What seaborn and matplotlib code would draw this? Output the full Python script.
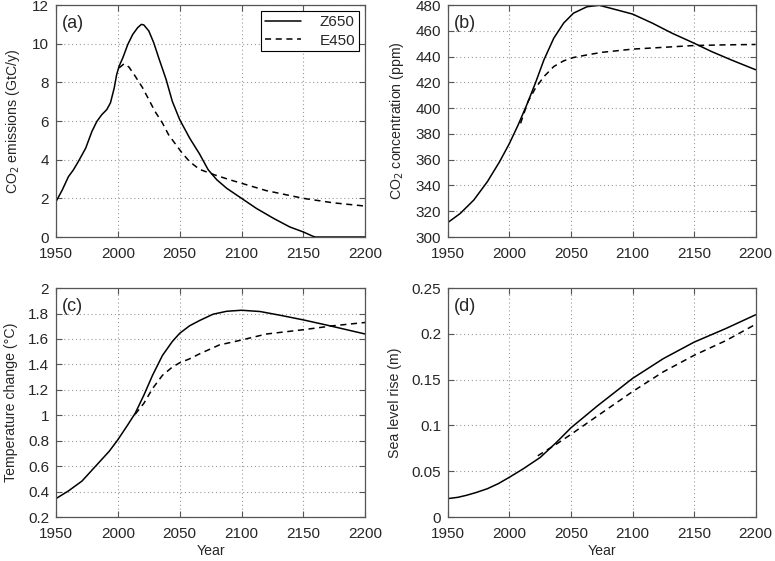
import numpy as np
import pandas as pd
import seaborn as sns
import matplotlib.pyplot as plt

sns.set_style("ticks")
plt.rcParams['font.family'] = ['Liberation Sans', 'DejaVu Sans']
plt.rcParams['xtick.direction'] = 'in'
plt.rcParams['ytick.direction'] = 'in'

# (a) CO2 emissions (GtC/y)
em_z_yr = [1950, 1955, 1960, 1964, 1968, 1974, 1979, 1983, 1987, 1991, 1994, 1997,
           1999, 2001, 2004, 2008, 2012, 2016, 2019, 2021, 2025, 2029, 2033, 2039,
           2044, 2050, 2058, 2066, 2073, 2080, 2088, 2100, 2112, 2126, 2139, 2150,
           2158, 2160, 2200]
em_z = [1.83, 2.43, 3.12, 3.47, 3.9, 4.6, 5.46, 5.98, 6.33, 6.59, 6.94, 7.7,
        8.4, 8.84, 9.27, 9.96, 10.48, 10.83, 11.0, 10.97, 10.66, 10.05, 9.27, 8.15,
        7.02, 6.07, 5.12, 4.3, 3.48, 2.96, 2.52, 2.0, 1.48, 0.96, 0.52, 0.26,
        0.03, 0.0, 0.0]
em_e_yr = [2001, 2005, 2009, 2014, 2020, 2025, 2030, 2036, 2041, 2047, 2052, 2058,
           2066, 2078, 2090, 2100, 2120, 2150, 2174, 2200]
em_e = [8.75, 8.96, 8.79, 8.32, 7.72, 7.11, 6.5, 5.9, 5.29, 4.77, 4.34, 3.9,
        3.5, 3.22, 2.97, 2.78, 2.4, 2.0, 1.77, 1.6]

# (b) CO2 concentration (ppm)
co_z_yr = [1950, 1960, 1971, 1982, 1992, 2000, 2007, 2014, 2021, 2028, 2036, 2044,
           2052, 2063, 2073, 2087, 2100, 2116, 2132, 2150, 2164, 2180, 2200]
co_z = [311.3, 318.3, 328.7, 342.9, 358.5, 372.7, 386.9, 402.5, 419.3, 437.5, 454.3, 466,
        473.7, 478.7, 479.8, 476.3, 473, 466, 458.2, 450.4, 444, 437.5, 429.8]
co_e_yr = [2009, 2015, 2021, 2028, 2036, 2044, 2052, 2063, 2075, 2100, 2127, 2150,
           2175, 2200]
co_e = [388.2, 405, 415.4, 424.5, 432.3, 436.7, 439.3, 441.3, 443.3, 445.8, 447.3, 448.6,
        449.1, 449.4]

# (c) Temperature change (°C)
t_z_yr = [1950, 1960, 1971, 1982, 1993, 2000, 2008, 2014, 2021, 2028, 2036, 2044,
          2050, 2058, 2066, 2077, 2088, 2100, 2115, 2131, 2150, 2169, 2185, 2200]
t_z = [0.345, 0.405, 0.483, 0.6, 0.717, 0.808, 0.925, 1.016, 1.158, 1.314, 1.47, 1.58,
       1.645, 1.704, 1.745, 1.795, 1.818, 1.826, 1.816, 1.787, 1.75, 1.709, 1.673, 1.639]
t_e_yr = [2014, 2021, 2028, 2036, 2044, 2050, 2058, 2066, 2082, 2100, 2120, 2150,
          2174, 2200]
t_e = [1.008, 1.094, 1.21, 1.314, 1.379, 1.413, 1.444, 1.483, 1.553, 1.592, 1.639, 1.673,
       1.704, 1.73]

# (d) Sea level rise (m)
s_z_yr = [1950, 1958, 1965, 1973, 1982, 1991, 2000, 2011, 2025, 2038, 2050, 2071,
          2100, 2125, 2150, 2176, 2200]
s_z = [0.0201, 0.0215, 0.0237, 0.0268, 0.0309, 0.0365, 0.0435, 0.0525, 0.0651, 0.0813,
       0.0975, 0.1209, 0.1514, 0.173, 0.191, 0.206, 0.2209]
s_e_yr = [2023, 2038, 2050, 2071, 2100, 2125, 2150, 2176, 2200]
s_e = [0.0669, 0.0795, 0.0903, 0.110, 0.137, 0.1586, 0.1766, 0.1928, 0.2105]

panels = [
    ("(a)", em_z_yr, em_z, em_e_yr, em_e, "CO$_2$ emissions (GtC/y)", (0, 12), np.arange(0, 12.1, 2)),
    ("(b)", co_z_yr, co_z, co_e_yr, co_e, "CO$_2$ concentration (ppm)", (300, 480), np.arange(300, 481, 20)),
    ("(c)", t_z_yr, t_z, t_e_yr, t_e, "Temperature change (°C)", (0.2, 2), np.arange(0.2, 2.01, 0.2)),
    ("(d)", s_z_yr, s_z, s_e_yr, s_e, "Sea level rise (m)", (0, 0.25), np.arange(0, 0.251, 0.05)),
]

positions = [
    [0.0723, 0.5775, 0.399, 0.4135],
    [0.578, 0.5775, 0.397, 0.4135],
    [0.0723, 0.0784, 0.399, 0.408],
    [0.578, 0.0784, 0.397, 0.408],
]

fig = plt.figure(figsize=(7.75, 5.61), dpi=100)

for i, (lab, zx, zy, ex, ey, ylab, ylim, yt) in enumerate(panels):
    ax = fig.add_axes(positions[i])
    sns.lineplot(x=zx, y=zy, ax=ax, color='black', lw=1.1, label="Z650")
    sns.lineplot(x=ex, y=ey, ax=ax, color='black', lw=1.1, linestyle=(0, (4, 3)), label="E450")
    ax.set_xlim(1950, 2200)
    ax.set_ylim(*ylim)
    ax.set_xticks(np.arange(1950, 2201, 50))
    ax.set_yticks(yt)
    ax.set_yticklabels([f"{v:g}" for v in yt])
    ax.grid(True, linestyle=(0, (1, 2.5)), color='#999999', lw=0.8)
    ax.tick_params(labelsize=11, length=4, width=0.8, color='#555555',
                   top=True, right=True)
    ax.tick_params(axis='x', pad=7)
    ax.tick_params(axis='y', pad=5)
    for s in ax.spines.values():
        s.set_color('#555555')
        s.set_linewidth(0.9)
    ax.set_ylabel(ylab, fontsize=10.2, labelpad=7)
    if i >= 2:
        ax.set_xlabel("Year", fontsize=10.2, labelpad=2)
    ax.text(0.02, 0.955, lab, transform=ax.transAxes, fontsize=13, va='top', ha='left')
    if i == 0:
        leg = ax.legend(loc='upper right', fontsize=11, frameon=True, fancybox=False,
                        handlelength=2.4, borderaxespad=0.4, borderpad=0.25,
                        labelspacing=0.3, handletextpad=1.2, edgecolor='black',
                        framealpha=1)
        leg.get_frame().set_linewidth(0.8)
    else:
        ax.get_legend().remove()

plt.savefig("out.png", dpi=100)
